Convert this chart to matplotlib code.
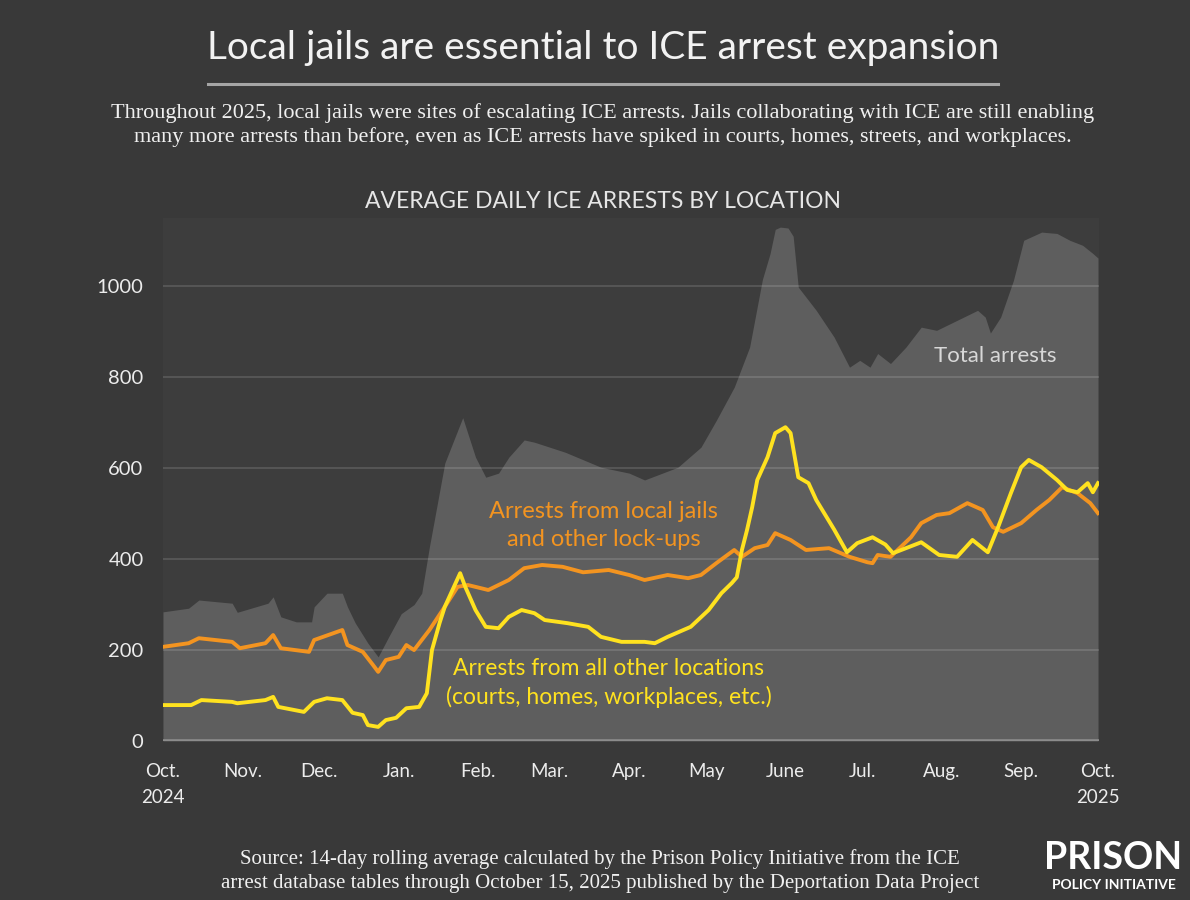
import matplotlib
matplotlib.use("Agg")
import matplotlib.pyplot as plt
from matplotlib import transforms

# Days since Oct 1, 2024 and 14-day rolling average of daily ICE arrests
total_days = [0, 10, 14, 27, 29, 41, 43, 46, 52, 58, 59, 64, 70, 72, 75, 80, 84, 88,
              93, 98, 101, 104, 110, 117, 122, 126, 131, 135, 141, 145, 157, 171,
              182, 188, 201, 210, 216, 223, 229, 234, 237, 239, 241, 244, 246, 248,
              255, 262, 268, 272, 276, 279, 284, 290, 296, 302, 310, 318, 321, 323,
              327, 332, 336, 343, 349, 354, 359, 363, 365]
total_vals = [284, 292, 310, 303, 283, 303, 317, 273, 262, 262, 295, 325, 325, 295,
              260, 215, 185, 228, 280, 300, 325, 427, 611, 711, 624, 580, 589, 624,
              662, 657, 635, 602, 589, 574, 602, 646, 705, 778, 866, 1015, 1072, 1125,
              1130, 1128, 1110, 998, 947, 888, 822, 837, 822, 852, 830, 866, 910, 903,
              925, 947, 932, 897, 932, 1013, 1101, 1119, 1116, 1101, 1090, 1072, 1062]

jail_days = [0, 10, 14, 27, 30, 40, 43, 46, 57, 59, 70, 72, 78, 82, 84, 87, 92, 95,
             98, 104, 110, 115, 119, 127, 135, 141, 148, 156, 164, 174, 182, 188,
             197, 205, 210, 216, 223, 226, 231, 236, 239, 245, 251, 260, 268, 275,
             277, 279, 284, 292, 296, 302, 307, 314, 320, 324, 328, 335, 341, 346,
             351, 357, 362, 365]
jail_vals = [207, 215, 226, 218, 204, 215, 233, 204, 196, 222, 244, 211, 196, 167,
             152, 178, 185, 211, 200, 244, 295, 339, 343, 332, 354, 380, 387, 383,
             371, 376, 365, 354, 365, 358, 365, 391, 420, 405, 424, 431, 457, 442,
             420, 424, 405, 393, 391, 409, 405, 448, 479, 497, 501, 523, 508, 470,
             460, 479, 508, 530, 558, 545, 523, 501]

other_days = [0, 11, 15, 27, 29, 40, 43, 45, 55, 59, 64, 70, 74, 78, 80, 84, 87, 91,
              95, 100, 103, 105, 108, 110, 116, 118, 122, 126, 131, 135, 140, 145,
              149, 158, 166, 171, 179, 188, 192, 197, 206, 213, 218, 222, 224, 226,
              228, 230, 232, 236, 239, 243, 245, 248, 252, 255, 262, 267, 271, 277,
              282, 285, 296, 303, 310, 316, 322, 326, 331, 335, 338, 343, 349, 353,
              357, 361, 363, 365]
other_vals = [79, 79, 90, 86, 83, 90, 97, 75, 64, 86, 94, 90, 62, 57, 35, 31, 46, 51,
              72, 75, 105, 200, 260, 295, 369, 339, 288, 251, 248, 273, 288, 281,
              266, 259, 251, 229, 218, 218, 215, 229, 251, 288, 325, 347, 360, 420,
              464, 514, 574, 624, 677, 690, 677, 580, 567, 530, 465, 415, 435, 448,
              432, 413, 437, 409, 405, 442, 415, 470, 545, 602, 618, 602, 574, 552,
              547, 567, 547, 567]

month_days = [0, 31, 61, 92, 123, 151, 182, 212, 243, 273, 304, 335, 365]
month_labels = ["Oct.", "Nov.", "Dec.", "Jan.", "Feb.", "Mar.", "Apr.", "May",
                "June", "Jul.", "Aug.", "Sep.", "Oct."]
y_ticks = [0, 200, 400, 600, 800, 1000]

BG = "#393939"
PANEL = "#3d3d3d"
FILL = "#5e5e5e"
ORANGE = "#f39420"
YELLOW = "#ffe21f"
TEXT = "#ececec"
SANS = ["Lato", "DejaVu Sans"]
SERIF = ["Liberation Serif", "DejaVu Serif"]

fig = plt.figure(figsize=(11.9, 9), dpi=100, facecolor=BG)
ax = fig.add_axes([163 / 1190, 1 - 741 / 900, (1099 - 163) / 1190, (741 - 218) / 900])
ax.set_facecolor(PANEL)

ax.fill_between(total_days, 0, total_vals, color=FILL, lw=0, zorder=1)

for y in y_ticks[1:]:
    ax.axhline(y, color="white", alpha=0.13, lw=1.4, zorder=2)
ax.axhline(0, color="#8c8c8c", lw=2.6, zorder=2)

ax.plot(jail_days, jail_vals, color=ORANGE, lw=2.8, solid_joinstyle="round", zorder=3)
ax.plot(other_days, other_vals, color=YELLOW, lw=2.8, solid_joinstyle="round", zorder=4)

ax.set_xlim(0, 365.4)
ax.set_ylim(0, 1150)
for s in ax.spines.values():
    s.set_visible(False)
ax.set_yticks(y_ticks)
ax.set_yticklabels([str(v) for v in y_ticks], family=SANS, fontsize=14.5, color=TEXT)
ax.set_xticks(month_days)
ax.set_xticklabels(month_labels, family=SANS, fontsize=13.5, color=TEXT)
ax.tick_params(axis="y", length=0, pad=14)
ax.tick_params(axis="x", length=0, pad=16)

xt = transforms.blended_transform_factory(ax.transData, ax.transAxes)
ax.text(0, -0.108, "2024", transform=xt, ha="center", va="center",
        family=SANS, fontsize=13.5, color=TEXT)
ax.text(365, -0.108, "2025", transform=xt, ha="center", va="center",
        family=SANS, fontsize=13.5, color=TEXT)

# Series labels
ax.text(172, 474, "Arrests from local jails\nand other lock-ups", ha="center",
        va="center", family=SANS, fontsize=17, color=ORANGE, linespacing=1.4)
ax.text(174, 127, "Arrests from all other locations\n(courts, homes, workplaces, etc.)",
        ha="center", va="center", family=SANS, fontsize=16.5, color=YELLOW,
        linespacing=1.4)
ax.text(325, 846, "Total arrests", ha="center", va="center", family=SANS,
        fontsize=16, color="#d8d8d8")

# Headings
fig.text(603 / 1190, 1 - 48 / 900, "Local jails are essential to ICE arrest expansion",
         ha="center", va="center", family=SANS, fontsize=28, color="#f2f2f2")
fig.add_artist(plt.Line2D([208 / 1190, 998 / 1190], [1 - 84 / 900, 1 - 84 / 900],
                          color="#a5a5a5", lw=2.2, transform=fig.transFigure))
fig.text(603 / 1190, 1 - 125 / 900,
         "Throughout 2025, local jails were sites of escalating ICE arrests. Jails collaborating with ICE are still enabling\n"
         "many more arrests than before, even as ICE arrests have spiked in courts, homes, streets, and workplaces.",
         ha="center", va="center", family=SERIF, fontsize=16, color="#f0f0f0",
         linespacing=1.3)
fig.text(603 / 1190, 1 - 202 / 900, "AVERAGE DAILY ICE ARRESTS BY LOCATION",
         ha="center", va="center", family=SANS, fontsize=16.5, color="#e6e6e6")

# Source and logo
fig.text(600 / 1190, 1 - 871 / 900,
         "Source: 14-day rolling average calculated by the Prison Policy Initiative from the ICE\n"
         "arrest database tables through October 15, 2025 published by the Deportation Data Project",
         ha="center", va="center", family=SERIF, fontsize=15, color="#f0f0f0",
         linespacing=1.35)
fig.text(1113 / 1190, 1 - 858 / 900, "PRISON", ha="center", va="center",
         family=SANS, fontsize=27, fontweight="bold", color="white")
fig.text(1114 / 1190, 1 - 885 / 900, "POLICY INITIATIVE", ha="center", va="center",
         family=SANS, fontsize=10, fontweight="bold", color="white")

fig.savefig("out.png", dpi=100, facecolor=BG)
